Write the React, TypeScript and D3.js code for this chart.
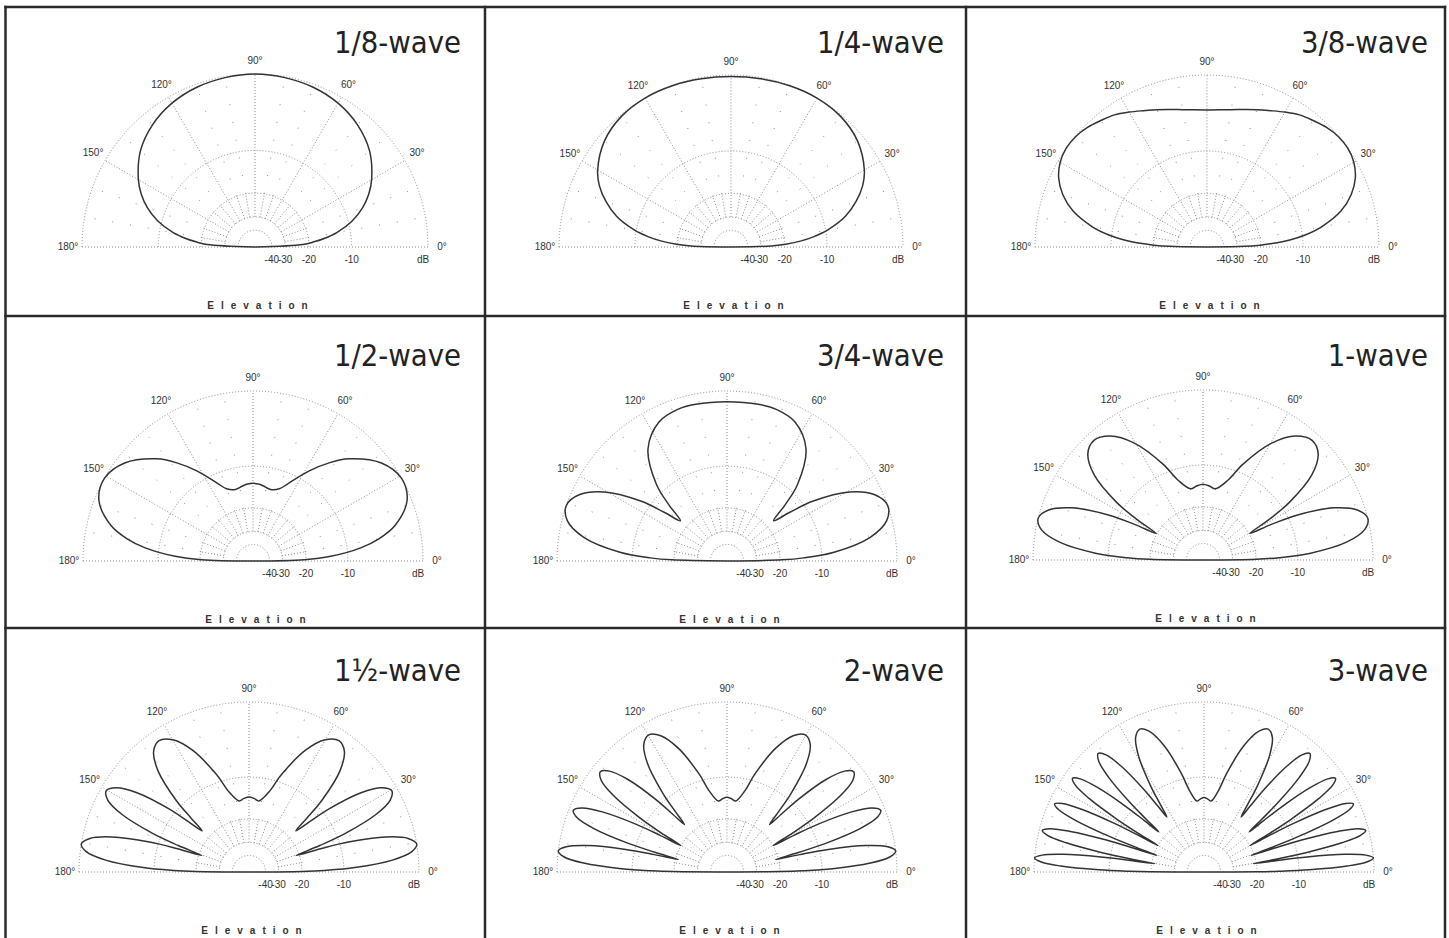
import React from 'react';
import * as d3 from 'd3';

// panel titles, reading order
const titles = ['1/8-wave', '1/4-wave', '3/8-wave', '1/2-wave', '3/4-wave', '1-wave', '1½-wave', '2-wave', '3-wave'];

// elevation angle (deg) -> relative gain (dB); 0..90, mirrored for 90..180
const wave1_8: [number, number][] = [
  [0, -99], [3, -22], [5, -18.4], [7, -15.6], [10, -12.6], [15, -9.3], [20, -7.1], [25, -5.5],
  [30, -4.3], [40, -2.5], [50, -1.4], [60, -0.7], [70, -0.3], [80, -0.1], [90, 0],
];
const wave1_4: [number, number][] = [
  [0, -99], [1.5, -25], [3, -19.7], [5, -15.3], [7, -12.5], [10, -9.6], [15, -6.4],
  [20, -4.4], [25, -2.9], [30, -1.9], [40, -0.7], [50, -0.15], [60, 0], [70, -0.04], [80, -0.12], [90, -0.16],
];
const wave3_8: [number, number][] = [
  [0, -99], [1, -26.1], [2, -20.1], [3, -16.7], [5, -12.3], [7, -9.5], [10, -6.7], [15, -3.7],
  [20, -1.95], [25, -0.85], [30, -0.25], [35, 0], [40, -0.04], [45, -0.3], [50, -0.7], [55, -1.1],
  [60, -1.7], [65, -2.3], [70, -2.8], [80, -3.6], [90, -3.9],
];
const wave1_2: [number, number][] = [
  [0, -99], [1.5, -20.6], [3.48, -13.4], [6.97, -7.7], [10, -4.9], [14.05, -2.57], [21.36, -0.47],
  [29.05, 0], [37.37, -0.88], [46.76, -3.3], [52, -5.3], [58.19, -8.15], [65.59, -11.9], [70, -13.63],
  [76.22, -14.35], [82, -13.89], [86, -13.57], [90, -13.45],
];
const wave3_4: [number, number][] = [
  [0, -99], [1.2, -19.4], [2.34, -13.66], [4.69, -7.88], [9.41, -2.71], [14.19, -0.54], [19.08, 0],
  [24.12, -0.83], [29.36, -3.25], [34.89, -8.38], [37.8, -13.05], [40.82, -17.43], [44, -12.82],
  [47.35, -8.42], [54.81, -3.69], [64.03, -1.6], [72, -1.1], [78.71, -1.06], [90, -1.12],
];
const wave1: [number, number][] = [
  [0, -99], [0.85, -20], [1.76, -13.8], [3.53, -8.0], [7.08, -2.78], [10.65, -0.57], [14.26, 0],
  [17.94, -0.8], [21.69, -3.2], [25.54, -8.45], [27.51, -13.57], [29.52, -19.72], [31.57, -13.43],
  [33.66, -8.52], [38.01, -3.57], [42.65, -1.41], [47.65, -0.84], [53.2, -1.6], [59.57, -3.89],
  [67.51, -8.56], [72.66, -12.2], [80.2, -14.68], [85, -14.2], [90, -13.87],
];
const wave1_5: [number, number][] = [
  [0, -99], [0.6, -20], [1.18, -13.92], [2.37, -8.11], [4.73, -2.86], [7.11, -0.61], [9.5, 0],
  [11.91, -0.76], [14.33, -3.15], [16.79, -8.47], [18.03, -13.98], [19.27, -21], [20.53, -13.92],
  [21.8, -8.55], [24.37, -3.42], [26.99, -1.2], [29.68, -0.59], [32.44, -1.34], [35.29, -3.67],
  [38.24, -8.7], [39.76, -13.27], [41.31, -17.2], [42.91, -13.16], [44.54, -8.71], [47.96, -3.89],
  [51.63, -1.73], [55.61, -1.12], [60.05, -1.85], [65.2, -4.09], [71.62, -8.7], [75.82, -12.3],
  [82, -14.79], [86, -14.33], [90, -14.02],
];
const wave2: [number, number][] = [
  [0, -99], [0.45, -20], [0.89, -13.99], [1.78, -8.17], [3.56, -2.89], [5.34, -0.63], [7.13, 0],
  [8.92, -0.75], [10.73, -3.12], [12.54, -8.46], [13.45, -14.12], [14.37, -21], [15.29, -14.1],
  [16.21, -8.53], [18.07, -3.33], [19.95, -1.08], [21.86, -0.45], [23.78, -1.19], [25.74, -3.53],
  [27.73, -8.7], [28.74, -13.75], [29.76, -19.89], [30.79, -13.68], [31.83, -8.73], [33.94, -3.72],
  [36.11, -1.5], [38.35, -0.88], [40.65, -1.6], [43.04, -3.89], [45.52, -8.79], [46.8, -13.09],
  [48.11, -16.85], [49.47, -13], [50.85, -8.8], [53.75, -4.05], [56.89, -1.88], [60.3, -1.27],
  [64.09, -1.97], [68.52, -4.2], [74.09, -8.77], [77.73, -12.36], [83.06, -14.86], [86.5, -14.41], [90, -14.1],
];
const wave3: [number, number][] = [
  [0, -99], [0.3, -20], [0.59, -14.06], [1.19, -8.22], [2.38, -2.93], [3.57, -0.65], [4.76, 0],
  [5.95, -0.73], [7.15, -3.09], [8.34, -8.43], [8.95, -14.2], [9.55, -21], [10.15, -14.21],
  [10.75, -8.49], [11.97, -3.23], [13.18, -0.96], [14.41, -0.31], [15.64, -1.03], [16.87, -3.37],
  [18.12, -8.65], [18.74, -14.11], [19.37, -21], [20, -14.09], [20.64, -8.69], [21.91, -3.51],
  [23.2, -1.25], [24.5, -0.6], [25.81, -1.32], [27.14, -3.64], [28.48, -8.78], [29.16, -13.81],
  [29.84, -19.94], [30.53, -13.77], [31.22, -8.81], [32.62, -3.77], [34.04, -1.53], [35.49, -0.89],
  [36.96, -1.6], [38.46, -3.89], [39.99, -8.86], [40.77, -13.39], [41.56, -17.76], [42.36, -13.33],
  [43.17, -8.86], [44.82, -4], [46.52, -1.79], [48.28, -1.16], [50.1, -1.85], [51.98, -4.1],
  [53.96, -8.87], [54.97, -12.9], [56.02, -16.15], [57.1, -12.84], [58.22, -8.87], [60.55, -4.2],
  [63.07, -2.04], [65.82, -1.41], [68.9, -2.1], [72.49, -4.3], [77.01, -8.85], [79.99, -12.41],
  [84.35, -14.92], [87, -14.51], [90, -14.17],
];
const patterns = [wave1_8, wave1_4, wave3_8, wave1_2, wave3_4, wave1, wave1_5, wave2, wave3];

const angleTicks = [0, 30, 60, 90, 120, 150, 180];
const dbRings = [-10, -20, -30, -40];
const dbTickLabels = ['-40', '-30', '-20', '-10', 'dB'];
const dbTickValues = [-40, -30, -20, -10, 0];

// layout of the pasted plots
const centers = [
  [255, 247, 173], [731, 247, 172], [1207, 247, 172],
  [253, 561, 170], [727, 561, 170], [1203, 560, 170],
  [249, 872, 170], [727, 872, 170], [1204, 872, 170],
];
const titleRight = [461, 944, 1428];
const titleBase = [53, 366, 681];
const gridX = [5.5, 485, 966, 1445];
const gridY = [7, 316, 628, 940];

const DOT = '#8c8c8c';
const INK = '#333';
const rad = (deg: number) => (deg * Math.PI) / 180;

function Panel({ idx }: { idx: number }) {
  const [cx, cy, R] = centers[idx];
  const data = patterns[idx];

  // ARRL log-periodic radial scale: radius drops by 0.89 per 2 dB
  const lnr = d3.scaleLinear().domain([-40, 0]).range([Math.log(R) + 20 * Math.log(0.89), Math.log(R)]);
  const r = (db: number) => Math.exp(lnr(db));
  const pt = (rr: number, a: number) => [rr * Math.cos(rad(a)), -rr * Math.sin(rad(a))];

  const full: [number, number][] = [
    ...data,
    ...data.slice(0, -1).reverse().map(([a, v]) => [180 - a, v] as [number, number]),
  ];
  const line = d3
    .lineRadial<[number, number]>()
    .angle((d) => rad(90 - d[0]))
    .radius((d) => r(d[1]))
    .curve(d3.curveCatmullRom.alpha(0.5));
  const pathD = (line(full) || '') + 'Z';

  const semi = (rr: number) => `M${-rr},0A${rr},${rr} 0 0 1 ${rr},0`;
  const tens = d3.range(10, 180, 10);
  const col = idx % 3;
  const row = Math.floor(idx / 3);

  return (
    <g>
      <g transform={`translate(${cx},${cy})`}>
        {[0, ...dbRings].map((d) => (
          <path key={'ring' + d} d={semi(r(d))} fill="none" stroke={DOT} strokeWidth={1} strokeDasharray="1 2" />
        ))}
        <line x1={-R} x2={R} y1={0} y2={0} stroke={DOT} strokeWidth={1} strokeDasharray="1 2" />
        {tens.map((a) => {
          const [x1, y1] = pt(r(-30), a);
          const [x2, y2] = pt(r(-20), a);
          return <line key={'in' + a} x1={x1} y1={y1} x2={x2} y2={y2} stroke={DOT} strokeWidth={1} strokeDasharray="1 2" />;
        })}
        {tens.map((a) => {
          const [x1, y1] = pt(r(-20), a);
          const [x2, y2] = pt(R, a);
          const major = a % 30 === 0;
          return (
            <line key={'out' + a} x1={x1} y1={y1} x2={x2} y2={y2} stroke={DOT} strokeWidth={1}
              strokeDasharray={major ? '1 2' : '1 17'} />
          );
        })}
        <path d={pathD} fill="none" stroke="#333" strokeWidth={1.5} strokeLinejoin="round" />
        {angleTicks.map((a) => {
          const [x, y] = pt(R + 14, a);
          return (
            <text key={'a' + a} x={x} y={a === 90 ? y + 1 : y} textAnchor="middle" dominantBaseline="middle"
              fontFamily="Liberation Sans, Arial, sans-serif" fontSize={10} fill={INK}>
              {a}°
            </text>
          );
        })}
        {dbTickValues.map((d, i) => (
          <text key={'d' + d} x={d === 0 ? R - 5 : r(d)} y={16} textAnchor="middle"
            fontFamily="Liberation Sans, Arial, sans-serif" fontSize={10} fill={INK}>
            {dbTickLabels[i]}
          </text>
        ))}
        <text x={6} y={62} textAnchor="middle" fontFamily="Liberation Sans, Arial, sans-serif"
          fontSize={10} fontWeight="bold" fill={INK} letterSpacing={7}>
          Elevation
        </text>
      </g>
      <text transform={`translate(${titleRight[col]},${titleBase[row]}) scale(0.89,1)`} textAnchor="end"
        fontFamily="DejaVu Sans, Verdana, sans-serif" fontSize={31} fill="#222">
        {titles[idx]}
      </text>
    </g>
  );
}

export default function App() {
  return (
    <svg width={1449} height={938} style={{ position: 'absolute', left: 0, top: 0, background: '#fff' }}>
      <rect width={1449} height={938} fill="#fff" />
      {titles.map((t, i) => (
        <Panel key={t} idx={i} />
      ))}
      {gridX.map((x) => (
        <line key={'gx' + x} x1={x} x2={x} y1={gridY[0] - 1.25} y2={gridY[3]} stroke="#2b2b2b" strokeWidth={2.5} />
      ))}
      {gridY.map((y) => (
        <line key={'gy' + y} x1={gridX[0] - 1.25} x2={gridX[3] + 1.25} y1={y} y2={y} stroke="#2b2b2b" strokeWidth={2.5} />
      ))}
    </svg>
  );
}
